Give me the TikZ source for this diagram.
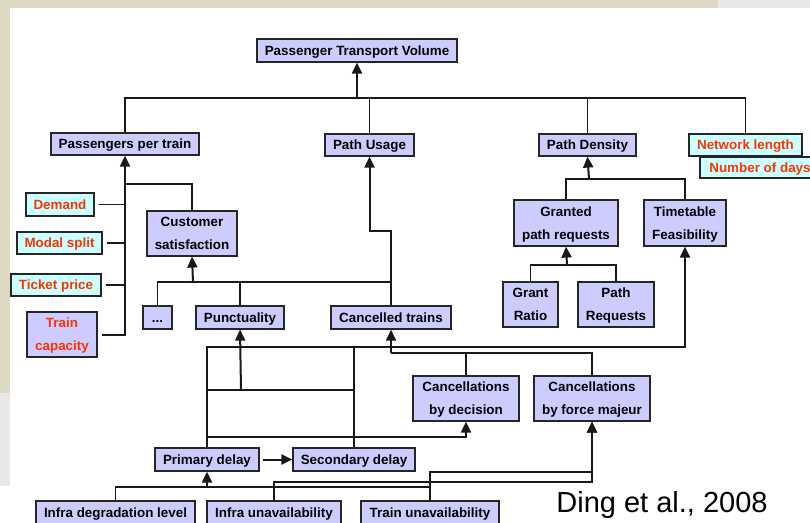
\documentclass[tikz,border=0pt]{standalone}
\usepackage{fontspec}
\setmainfont{Liberation Sans}
\usepackage{xcolor}
\usetikzlibrary{arrows.meta,arrows}
\usetikzlibrary{calc}

\definecolor{boxblue}{HTML}{CCCCFF}
\definecolor{inputcyan}{HTML}{CCFFFF}
\definecolor{inputred}{HTML}{FF3300}
\definecolor{tanband}{HTML}{DDD9C3}
\definecolor{greyband}{HTML}{E8E8E8}

\begin{document}
\begin{tikzpicture}[x=1pt,y=-1pt]

\tikzset{line/.style={draw=black!90,line width=1.3pt}}
\tikzset{arrow/.style={line,line width=2pt,-{Triangle[length=11pt,width=10pt]}}}
\tikzset{box/.style={draw=black!85,line width=1.2pt,fill=boxblue,inner sep=0pt,align=center,
  font=\bfseries\fontsize{13.4}{23}\selectfont,text height=9.6pt,text depth=-3pt}}
\tikzset{tallbox/.style={box,text height=,text depth=-6pt}}
\tikzset{input/.style={box,fill=inputcyan,text=inputred}}

\useasboundingbox (0,0) rectangle (810,522);
\clip (0,0) rectangle (810,522);

% slide background
\fill[tanband] (0,0) rectangle (718,8);
\fill[greyband] (718,0) rectangle (810,8);
\fill[tanband] (0,8) rectangle (10,393);
\fill[greyband] (0,393) rectangle (10,486);

% top level
\node[box,minimum width=200pt,minimum height=23pt] (ptv) at (357,50.5) {Passenger Transport Volume};
\node[box,minimum width=148pt,minimum height=22pt] (ppt) at (125,144) {Passengers per train};
\node[box,minimum width=89pt,minimum height=22pt] (pu) at (369.5,145) {Path Usage};
\node[box,minimum width=97pt,minimum height=22pt] (pd) at (587.5,145) {Path Density};
\node[input,minimum width=113pt,minimum height=22pt] (nl) at (745.5,145) {Network length};
\node[input,minimum width=120pt,minimum height=21pt] (nd) at (760,167.5) {Number of days};

% inputs of passengers per train
\node[input,minimum width=68pt,minimum height=23pt] (dem) at (60,204.5) {Demand};
\node[input,minimum width=85pt,minimum height=22pt] (mod) at (59.5,243) {Modal split};
\node[input,minimum width=90pt,minimum height=22pt] (tik) at (56,285) {Ticket price};
\node[input,tallbox,minimum width=70pt,minimum height=45pt] (tcap) at (62,334.5) {Train\\capacity};
\node[tallbox,minimum width=90pt,minimum height=45pt] (cs) at (192,233.5) {Customer\\satisfaction};

% path density side
\node[tallbox,minimum width=104pt,minimum height=46pt] (gpr) at (566,223) {Granted\\path requests};
\node[tallbox,minimum width=82pt,minimum height=46pt] (tf) at (685,223) {Timetable\\Feasibility};
\node[tallbox,minimum width=55pt,minimum height=45pt] (gr) at (530.5,304.5) {Grant\\Ratio};
\node[tallbox,minimum width=76pt,minimum height=45pt] (preq) at (616,304.5) {Path\\Requests};

% middle row
\node[box,minimum width=29pt,minimum height=23pt] (dots) at (157.5,317.5) {...};
\node[box,minimum width=88pt,minimum height=23pt] (punc) at (240,317.5) {Punctuality};
\node[box,minimum width=120pt,minimum height=23pt] (ct) at (391,317.5) {Cancelled trains};
\node[tallbox,minimum width=106pt,minimum height=45pt] (cbd) at (466,398.5) {Cancellations\\by decision};
\node[tallbox,minimum width=116pt,minimum height=45pt] (cfm) at (592,398.5) {Cancellations\\by force majeur};

% delays and causes
\node[box,minimum width=104pt,minimum height=23pt] (prd) at (207,459.5) {Primary delay};
\node[box,minimum width=122pt,minimum height=23pt] (sd) at (354,459.5) {Secondary delay};
\node[box,minimum width=159pt,minimum height=23pt] (idl) at (115.5,512.5) {Infra degradation level};
\node[box,minimum width=134pt,minimum height=23pt] (iu) at (274,512.5) {Infra unavailability};
\node[box,minimum width=138pt,minimum height=23pt] (tu) at (430,512.5) {Train unavailability};

\node (cite) at (662,505) {\fontsize{29}{29}\selectfont Ding et al., 2008};

% junctions
\coordinate (topj) at (357,98);
\coordinate (pptj) at (127,184);
\coordinate (csj) at (193,282);
\coordinate (pdj) at (589,179);
\coordinate (gprj) at (567,265);
\coordinate (ctj) at (391,353);
\coordinate (puncj) at (241,390);
\coordinate (cbdj) at (207,437);
\coordinate (prdj) at (207,487);

% into passenger transport volume
\path[arrow] (topj) to (ptv.south);
\path[line] (ppt.north) |- (topj) -| (nl.north);
\path[line] (pu.north) to (pu.north |- topj);
\path[line] (pd.north) to (pd.north |- topj);

% into passengers per train
\path[arrow,shorten <=4pt] (tcap.east) -| (ppt.south);
\path[line,shorten <=4pt] (dem.east) to (dem.east -| ppt.south);
\path[line,shorten <=4pt] (mod.east) to (mod.east -| ppt.south);
\path[line,shorten <=4pt] (tik.east) to (tik.east -| ppt.south);
\path[line] (cs.north) |- (pptj) -- (pptj -| ppt.south);

% into customer satisfaction and path usage
\path[arrow] (csj) to (cs.south);
\path[line] (dots.north) |- (csj) -| (ct.north);
\path[line] (punc.north) to (punc.north |- csj);
\path[arrow] (ct.north) -- ++(0,-74) -| (pu.south);

% into path density
\path[arrow] (pdj) to (pd.south);
\path[line] (gpr.north) |- (pdj) -| (tf.north);
\path[arrow] (gprj) to (gpr.south);
\path[line] (gr.north) |- (gprj) -| (preq.north);

% into timetable feasibility, punctuality, cancellations
\path[arrow] (prd.north) -- ++(0,-100) -| (tf.south);
\path[line] (sd.north) -- ++(0,-100);
\path[arrow] (puncj) to (punc.south);
\path[line] (puncj -| prd.north) to (puncj -| sd.north);
\path[arrow] (cbdj) -| (cbd.south);
\path[arrow] (ctj) to (ct.south);
\path[line] (cbd.north) to (cbd.north |- ctj);
\path[line] (cfm.north) |- (ctj);

% delays
\path[arrow,shorten <=3pt] (prd.east) to (sd.west);
\path[arrow] (prdj) to (prd.south);
\path[line] (idl.north) |- (prdj) -| (tu.north);
\path[arrow] (iu.north) -- ++(0,-18) -| (cfm.south);
\path[arrow] (tu.north) -- ++(0,-28) -| (cfm.south);

\end{tikzpicture}
\end{document}
